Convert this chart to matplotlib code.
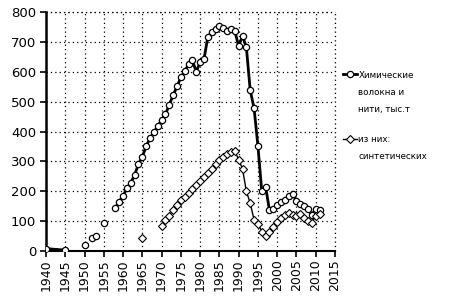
import numpy as np
import matplotlib
matplotlib.use("Agg")
import matplotlib.pyplot as plt
from matplotlib.lines import Line2D

nan = np.nan
# Chemical fibres and yarns, thousand t (NaN = gap in the series)
years_total = [1940, 1945, nan, 1950, nan, 1952, 1953, nan, 1955, nan] + list(range(1958, 2012))
values_total = [8, 3, nan, 20, nan, 44, 50, nan, 94, nan,
                144, 165, 185, 210, 228, 255, 290, 316, 350, 378,
                397, 417, 440, 457, 490, 521, 551, 581, 602, 625,
                638, 600, 632, 642, 716, 733, 743, 753, 746, 736,
                743, 736, 686, 720, 682, 538, 478, 352, 200, 215,
                136, 142, 155, 165, 172, 185, 192, 168, 158, 152,
                140, 122, 140, 138]

# of which synthetic
years_synth = [1965, nan] + list(range(1970, 2012))
values_synth = [42, nan,
                85, 104, 118, 138, 155, 170, 182, 195, 208, 222,
                235, 248, 262, 276, 290, 303, 316, 326, 333, 335,
                306, 275, 200, 160, 105, 92, 65, 50, 62, 80,
                98, 112, 120, 128, 122, 118, 125, 112, 100, 95,
                118, 125]

label_total = ["Химические", "волокна и", "нити, тыс.т"]
label_synth = ["из них:", "синтетических"]

fig = plt.figure(figsize=(4.58, 3.0), dpi=100)
ax = fig.add_axes([0.1004, 0.1633, 0.631, 0.7967])

ax.plot(years_total, values_total, color="black", lw=2.0, marker="o",
        ms=4.5, mfc="white", mec="black", mew=0.9, zorder=3)
ax.plot(years_synth, values_synth, color="black", lw=1.0, marker="D",
        ms=3.6, mfc="white", mec="black", mew=0.8, zorder=3)

ax.set_xlim(1940, 2015)
ax.set_ylim(0, 800)
ax.set_xticks(range(1940, 2016, 5))
ax.set_yticks(range(0, 801, 100))
ax.tick_params(axis="x", labelrotation=90, labelsize=9, direction="out",
               length=4, width=1.2, pad=2)
ax.tick_params(axis="y", labelsize=9.5, direction="out", length=4,
               width=1.2, pad=3)
ax.grid(True, color="black", linestyle=(0, (1, 2.5)), linewidth=0.9)
ax.set_axisbelow(True)
for s in ["top", "right"]:
    ax.spines[s].set_visible(False)
ax.spines["left"].set_linewidth(1.8)
ax.spines["bottom"].set_linewidth(1.5)
ax.axvline(2015, color="black", linestyle=(0, (1, 2.5)), linewidth=0.9,
           clip_on=False, zorder=1)
ax.axhline(800, color="black", linestyle=(0, (1, 2.5)), linewidth=0.9,
           clip_on=False, zorder=1)

handles = [
    Line2D([], [], color="black", lw=2.0, marker="o", ms=4.5, mfc="white",
           mec="black", mew=0.9),
    Line2D([], [], color="black", lw=1.0, marker="D", ms=3.6, mfc="white",
           mec="black", mew=0.8),
]
fs = 6.3
leg = fig.legend(handles, [label_total[0], label_synth[0]], loc="upper left",
                 bbox_to_anchor=(0.748, 0.765), frameon=False, fontsize=fs,
                 handlelength=1.6, handletextpad=0.2, labelspacing=6.3,
                 borderaxespad=0, borderpad=0)

# continuation lines of the legend labels, aligned under the first lines
fig.canvas.draw()
renderer = fig.canvas.get_renderer()
inv = fig.transFigure.inverted()
line_step = 17.5 / 300
for txt, lab in zip(leg.get_texts(), [label_total, label_synth]):
    bb = txt.get_window_extent(renderer)
    x0, y0 = inv.transform((bb.x0, bb.y0))
    for i, extra in enumerate(lab[1:], start=1):
        fig.text(x0, y0 - i * line_step, extra, fontsize=fs, ha="left",
                 va="bottom")

fig.savefig("out.png", dpi=100)
